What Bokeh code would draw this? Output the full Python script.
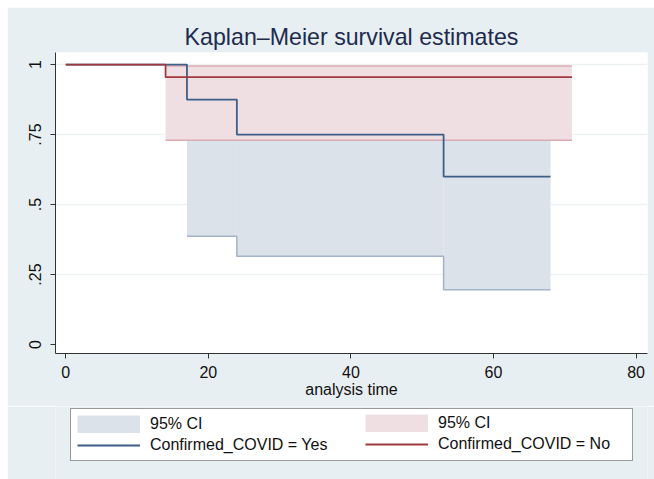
from bokeh.plotting import figure
from bokeh.models import Range1d, FixedTicker, Legend, LegendItem, ColumnDataSource, Spacer
from bokeh.layouts import row, column
from bokeh.embed import file_html
from bokeh.resources import INLINE

# ---- data ----
# Confirmed_COVID = Yes
yes_time = [0, 17, 24, 53, 68]
yes_surv = [1.0, 0.875, 0.75, 0.60, 0.60]
ci_yes_time = [17, 24, 53, 68]
ci_yes_lower = [0.387, 0.315, 0.196, 0.196]
ci_yes_upper = [0.981, 0.931, 0.884, 0.884]
# Confirmed_COVID = No
no_time = [0, 14, 71]
no_surv = [1.0, 0.955, 0.955]
ci_no_time = [14, 71]
ci_no_lower = [0.73, 0.73]
ci_no_upper = [0.995, 0.995]

x_ticks = [0, 20, 40, 60, 80]
y_ticks = [0, 0.25, 0.5, 0.75, 1]
y_tick_labels = {0: "0", 0.25: ".25", 0.5: ".5", 0.75: ".75", 1: "1"}
legend_labels_yes = ["95% CI", "Confirmed_COVID = Yes"]
legend_labels_no = ["95% CI", "Confirmed_COVID = No"]

BG = "#e8eff2"
FONT = "Liberation Sans"
BLUE_FILL = "#dce2ea"
BLUE_EDGE = "#a4b3c9"
PINK_FILL = "#efdfe2"
PINK_EDGE = "#dcaab1"
BLUE_LINE = "#3d5e88"
RED_LINE = "#a03a3f"
KM_LW = 1.8

src_yes = ColumnDataSource(dict(left=ci_yes_time[:-1], right=ci_yes_time[1:],
                                bottom=ci_yes_lower[:-1], top=ci_yes_upper[:-1]))
src_no = ColumnDataSource(dict(left=ci_no_time[:-1], right=ci_no_time[1:],
                               bottom=ci_no_lower[:-1], top=ci_no_upper[:-1]))

p = figure(frame_width=592, frame_height=301, output_backend="svg", toolbar_location=None,
           x_range=Range1d(-1.44, 81.6), y_range=Range1d(-0.032, 1.043),
           min_border_left=48, min_border_right=7, min_border_top=45, min_border_bottom=53)
p.background_fill_color = "white"
p.border_fill_color = BG
p.outline_line_color = None

# title
p.title.text = "Kaplan\u2013Meier survival estimates"
p.title.align = "center"
p.title.text_font = FONT
p.title.text_font_size = "23.2px"
p.title.text_font_style = "normal"
p.title.text_color = "#1d2b4f"
p.title.standoff = 5
p.title.offset = -2

# grid
p.xgrid.grid_line_color = None
p.ygrid.ticker = FixedTicker(ticks=[0.25, 0.5, 0.75, 1])
p.ygrid.grid_line_color = "#eef1f3"
p.ygrid.grid_line_width = 1.5

# axes
for ax in (p.xaxis[0], p.yaxis[0]):
    ax.axis_line_color = "#333333"
    ax.major_tick_line_color = "#333333"
    ax.major_tick_out = 5
    ax.major_tick_in = 0
    ax.minor_tick_line_color = None
    ax.major_label_text_font = FONT
    ax.major_label_text_font_size = "16px"
    ax.major_label_text_color = "#111111"
p.xaxis.ticker = FixedTicker(ticks=x_ticks)
p.yaxis.ticker = FixedTicker(ticks=y_ticks)
p.yaxis.major_label_overrides = y_tick_labels
p.yaxis.major_label_orientation = "vertical"
p.yaxis.major_label_standoff = 9
p.xaxis.axis_label = "analysis time"
p.xaxis.axis_label_text_font = FONT
p.xaxis.axis_label_text_font_size = "16px"
p.xaxis.axis_label_text_font_style = "normal"
p.xaxis.axis_label_text_color = "#111111"
p.xaxis.axis_label_standoff = 0
p.xaxis.major_label_standoff = 7

# CI bands, CI edges and KM curves
p.quad(left="left", right="right", bottom="bottom", top="top", source=src_yes,
       fill_color=BLUE_FILL, line_color=None)
p.step(ci_yes_time, ci_yes_lower, mode="after", line_color=BLUE_EDGE, line_width=1.5)
p.step(ci_yes_time, ci_yes_upper, mode="after", line_color=BLUE_EDGE, line_width=1.5)
p.quad(left="left", right="right", bottom="bottom", top="top", source=src_no,
       fill_color=PINK_FILL, line_color=None)
p.step(ci_no_time, ci_no_lower, mode="after", line_color=PINK_EDGE, line_width=1.5)
p.step(ci_no_time, ci_no_upper, mode="after", line_color=PINK_EDGE, line_width=1.5)
p.step(yes_time, yes_surv, mode="after", line_color=BLUE_LINE, line_width=KM_LW)
p.step(no_time, no_surv, mode="after", line_color=RED_LINE, line_width=KM_LW)

# ---- legend strip (separate figure; its data range is off-screen, only keys show) ----
lg = figure(frame_width=592, frame_height=73, output_backend="svg", toolbar_location=None,
            x_range=Range1d(1000, 1001), y_range=Range1d(1000, 1001),
            x_axis_location=None, y_axis_location=None,
            min_border_left=48, min_border_right=7, min_border_top=0, min_border_bottom=0)
lg.background_fill_color = BG
lg.border_fill_color = BG
lg.outline_line_color = None
lg.grid.visible = False
# key renderers: a band key is a thick butt-capped stroke (full 63x18 swatch)
k_band_yes = lg.line(ci_yes_time, ci_yes_lower, line_color=BLUE_FILL, line_width=18, line_cap="butt")
k_line_yes = lg.line(yes_time, yes_surv, line_color=BLUE_LINE, line_width=KM_LW)
k_band_no = lg.line(ci_no_time, ci_no_lower, line_color=PINK_FILL, line_width=18, line_cap="butt")
k_line_no = lg.line(no_time, no_surv, line_color=RED_LINE, line_width=KM_LW)


def make_legend(items, loc):
    leg = Legend(items=items, location=loc, orientation="vertical")
    leg.label_text_font = FONT
    leg.label_text_font_size = "16px"
    leg.label_text_color = "#111111"
    leg.glyph_width = 63
    leg.glyph_height = 18
    leg.label_height = 18
    leg.label_standoff = 10
    leg.spacing = 3
    leg.padding = 6
    leg.margin = 0
    leg.label_text_baseline = "middle"
    return leg


leg_a = make_legend([LegendItem(label=legend_labels_yes[0], renderers=[k_band_yes]),
                     LegendItem(label=legend_labels_yes[1], renderers=[k_line_yes])], (15, 18))
leg_a.label_width = 476
leg_a.border_line_color = "#333333"
leg_a.border_line_width = 1
leg_a.background_fill_color = "white"
leg_a.background_fill_alpha = 1
leg_b = make_legend([LegendItem(label=legend_labels_no[0], renderers=[k_band_no]),
                     LegendItem(label=legend_labels_no[1], renderers=[k_line_no])], (310, 26))
leg_b.border_line_color = None
leg_b.background_fill_alpha = 0
lg.add_layout(leg_a, "center")
lg.add_layout(leg_b, "center")

layout = column(Spacer(height=7),
                row(Spacer(width=7), column(p, lg, spacing=0), spacing=0),
                spacing=0)
open("out.html", "w").write(file_html(layout, INLINE))
